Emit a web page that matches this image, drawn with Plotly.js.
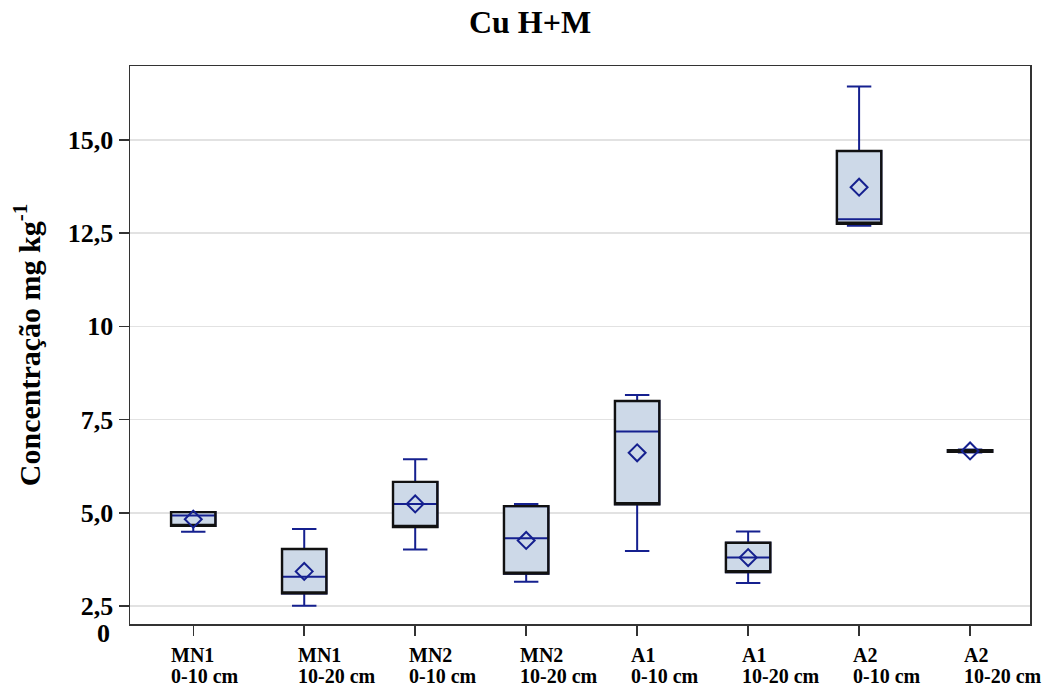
<!DOCTYPE html>
<html>
<head>
<meta charset="utf-8">
<script src="https://cdn.plot.ly/plotly-3.0.1.min.js"></script>
<style>html,body{margin:0;padding:0;background:#fff;}#chart{width:1045px;height:688px;}</style>
</head>
<body>
<div id="chart"></div>
<script>
// ---- data ----
const categories = ["MN1 0-10 cm","MN1 10-20 cm","MN2 0-10 cm","MN2 10-20 cm","A1 0-10 cm","A1 10-20 cm","A2 0-10 cm","A2 10-20 cm"];
const sites  = ["MN1","MN1","MN2","MN2","A1","A1","A2","A2"];
const depths = ["0-10 cm","10-20 cm","0-10 cm","10-20 cm","0-10 cm","10-20 cm","0-10 cm","10-20 cm"];
const lowerWhisker = [4.49, 2.51, 4.02, 3.15, 3.98, 3.12, 12.70, 6.62];
const q1Values     = [4.65, 2.84, 4.62, 3.37, 5.23, 3.41, 12.75, 6.64];
const medians      = [4.93, 3.29, 5.24, 4.32, 7.18, 3.80, 12.87, 6.66];
const q3Values     = [5.02, 4.03, 5.83, 5.18, 8.00, 4.20, 14.70, 6.68];
const upperWhisker = [5.02, 4.57, 6.44, 5.24, 8.16, 4.50, 16.43, 6.70];
const means        = [4.83, 3.43, 5.24, 4.26, 6.61, 3.80, 13.73, 6.66];
const yTickVals  = [2.5, 5, 7.5, 10, 12.5, 15];
const yTickText  = ["2,5", "5,0", "7,5", "10", "12,5", "15,0"];

const navy = '#15208f';
const serif = 'Liberation Serif, Times New Roman, serif';

const traces = [
  { // whiskers, median, fill (navy)
    type: 'box', x: categories,
    q1: q1Values, median: medians, q3: q3Values,
    lowerfence: lowerWhisker, upperfence: upperWhisker,
    boxpoints: false, width: 0.4, whiskerwidth: 0.55,
    fillcolor: '#cdd9e8', line: {color: navy, width: 2},
    hoverinfo: 'skip', showlegend: false
  },
  { // black box outline
    type: 'box', x: categories,
    q1: q1Values, median: q1Values, q3: q3Values,
    lowerfence: q1Values, upperfence: q3Values,
    boxpoints: false, width: 0.4, whiskerwidth: 0,
    fillcolor: 'rgba(0,0,0,0)', line: {color: '#111', width: 2.4},
    hoverinfo: 'skip', showlegend: false
  },
  { // means
    type: 'scatter', mode: 'markers', x: categories, y: means,
    marker: {symbol: 'diamond-open', size: 13, color: navy, line: {width: 2, color: navy}},
    hoverinfo: 'skip', showlegend: false
  }
];

const annotations = [];
categories.forEach((c, i) => {
  annotations.push({x: c, xref: 'x', y: 0, yref: 'paper', yanchor: 'middle', yshift: -31,
    xanchor: 'left', xshift: i === 0 ? -24 : -8, align: 'left', showarrow: false,
    text: sites[i], font: {family: serif, size: 20, color: '#000', weight: 'bold'}});
  annotations.push({x: c, xref: 'x', y: 0, yref: 'paper', yanchor: 'middle', yshift: -52,
    xanchor: 'left', xshift: i === 0 ? -24 : -8, align: 'left', showarrow: false,
    text: depths[i], font: {family: serif, size: 20, color: '#000', weight: 'bold'}});
});
annotations.push({x: 0, xref: 'paper', y: 0, yref: 'paper', yanchor: 'middle', yshift: -9,
  xanchor: 'right', xshift: -18, showarrow: false, text: '0',
  font: {family: serif, size: 26, color: '#000', weight: 'bold'}});

const layout = {
  width: 1045, height: 688,
  margin: {l: 130, r: 15, t: 66, b: 64},
  paper_bgcolor: '#fff', plot_bgcolor: '#fff',
  title: {text: 'Cu H+M', x: 530/1045, xref: 'container', xanchor: 'center',
    y: 1 - 22/688, yref: 'container', yanchor: 'middle',
    font: {family: serif, size: 32, color: '#000', weight: 'bold'}},
  boxmode: 'overlay',
  xaxis: {type: 'category', range: [-0.57, 7.54], showticklabels: false,
    ticks: 'outside', ticklen: 10, tickwidth: 1.5, tickcolor: '#333',
    showline: true, linecolor: '#333', linewidth: 1.5, mirror: true,
    showgrid: false, zeroline: false, fixedrange: true},
  yaxis: {range: [2.02, 16.98], tickvals: yTickVals, ticktext: yTickText,
    ticks: 'outside', ticklen: 10, tickwidth: 1.5, tickcolor: '#333',
    tickfont: {family: serif, size: 26, color: '#000', weight: 'bold'},
    showline: true, linecolor: '#333', linewidth: 1.5, mirror: true,
    showgrid: true, gridcolor: '#e2e2e2', gridwidth: 1.5, zeroline: false,
    title: {text: 'Concentração mg kg<sup>-1</sup>', standoff: 18,
      font: {family: serif, size: 30, color: '#000', weight: 'bold'}},
    fixedrange: true},
  annotations: annotations
};

Plotly.newPlot('chart', traces, layout, {displayModeBar: false, staticPlot: true});
</script>
</body>
</html>
